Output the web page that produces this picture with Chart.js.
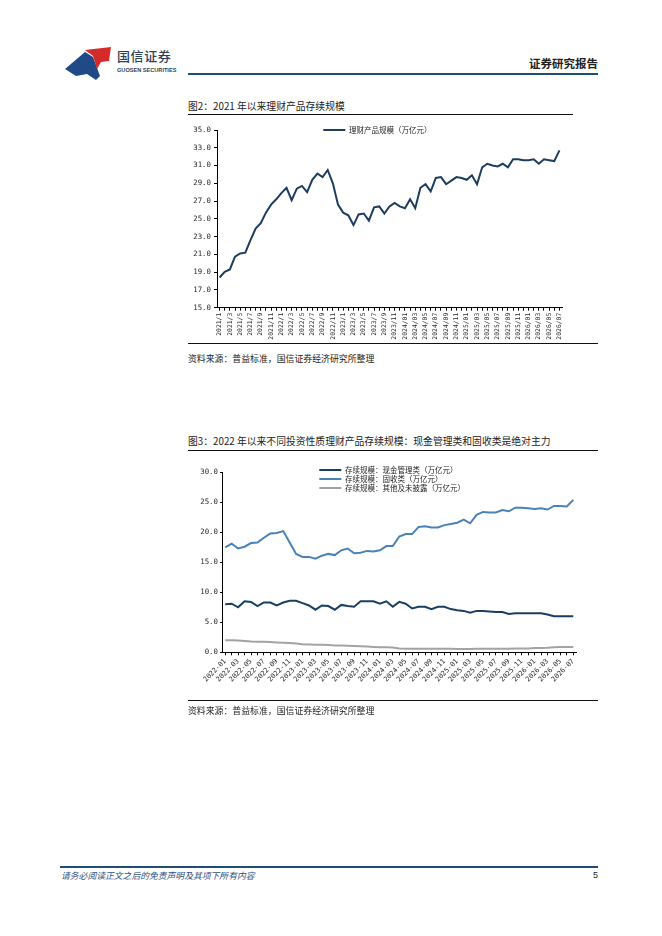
<!DOCTYPE html>
<html>
<head>
<meta charset="utf-8">
<script src="https://cdn.jsdelivr.net/npm/chart.js@4.4.1/dist/chart.umd.min.js"></script>
<style>
  html, body { margin: 0; padding: 0; background: #fff; }
  #page { position: relative; width: 662px; height: 936px; background: #fff; overflow: hidden;
          font-family: "Noto Sans CJK SC", "Noto Sans", sans-serif; color: #222; }
  .abs { position: absolute; white-space: nowrap; }
  .hline { position: absolute; }
</style>
</head>
<body>
<div id="page">
  <!-- header -->
  <svg class="abs" style="left:64px;top:44px" width="50" height="38" viewBox="0 0 50 38">
    <path d="M1,25 L21,8 L29,13 L36,32 L32,36 L23,30 L12,32 Z" fill="#1f4a86"/>
    <path d="M21,6 L47,3 L45,17 L37,18 L33,25 L29,12 Z" fill="#d42a2a"/>
  </svg>
  <div class="abs" style="left:117px;top:47px;font-size:13px;font-weight:500;letter-spacing:0.6px;color:#2d3f57;line-height:18px">国信证券</div>
  <div class="abs" style="left:117px;top:67px;font-size:5.6px;font-weight:700;color:#2d3f57;line-height:7px;font-family:'Liberation Sans',sans-serif">GUOSEN SECURITIES</div>
  <div class="abs" style="right:64px;top:55px;font-size:11.5px;font-weight:700;color:#222;line-height:16px">证券研究报告</div>
  <div class="hline" style="left:188px;top:73px;width:410px;height:2px;background:#1f4d74"></div>

  <!-- figure 2 -->
  <div class="abs" style="left:188px;top:99px;font-size:9.8px;line-height:14px;color:#222">图2：2021 年以来理财产品存续规模</div>
  <div class="hline" style="left:188px;top:114px;width:385px;height:1px;background:#111"></div>
  <div class="abs" style="left:188px;top:120px;width:412px;height:222px"><canvas id="c1" width="412" height="222"></canvas></div>
  <div class="hline" style="left:188px;top:343px;width:410px;height:1px;background:#111"></div>
  <div class="abs" style="left:188px;top:352px;font-size:8.9px;line-height:13px;color:#222">资料来源：普益标准，国信证券经济研究所整理</div>

  <!-- figure 3 -->
  <div class="abs" style="left:188px;top:434px;font-size:9.8px;line-height:14px;color:#222">图3：2022 年以来不同投资性质理财产品存续规模：现金管理类和固收类是绝对主力</div>
  <div class="hline" style="left:188px;top:450px;width:410px;height:1px;background:#111"></div>
  <div class="abs" style="left:188px;top:458px;width:412px;height:245px"><canvas id="c2" width="412" height="245"></canvas></div>
  <div class="hline" style="left:188px;top:700px;width:410px;height:1px;background:#111"></div>
  <div class="abs" style="left:188px;top:704px;font-size:8.9px;line-height:13px;color:#222">资料来源：普益标准，国信证券经济研究所整理</div>

  <!-- footer -->
  <div class="hline" style="left:60px;top:866px;width:538px;height:1.5px;background:#1f4d74"></div>
  <div class="abs" style="left:61px;top:869px;font-size:8.8px;line-height:13px;font-style:italic;color:#2d4f82">请务必阅读正文之后的免责声明及其项下所有内容</div>
  <div class="abs" style="right:64px;top:869px;font-size:9px;line-height:13px;color:#222;font-family:'Liberation Sans',sans-serif">5</div>
</div>

<script>
// ---------- Chart 1 data ----------
const months1 = [
  '2021/1','2021/2','2021/3','2021/4','2021/5','2021/6','2021/7','2021/8','2021/9','2021/10','2021/11','2021/12',
  '2022/1','2022/2','2022/3','2022/4','2022/5','2022/6','2022/7','2022/8','2022/9','2022/10','2022/11','2022/12',
  '2023/1','2023/2','2023/3','2023/4','2023/5','2023/6','2023/7','2023/8','2023/9','2023/10','2023/11','2023/12',
  '2024/01','2024/02','2024/03','2024/04','2024/05','2024/06','2024/07','2024/08','2024/09','2024/10','2024/11','2024/12',
  '2025/01','2025/02','2025/03','2025/04','2025/05','2025/06','2025/07','2025/08','2025/09','2025/10','2025/11','2025/12',
  '2026/01','2026/02','2026/03','2026/04','2026/05','2026/06','2026/07'
];
const wealthScale = [
  18.4, 19.05, 19.3, 20.75, 21.1, 21.2, 22.6, 23.9, 24.5, 25.7, 26.6, 27.2,
  27.9, 28.5, 27.1, 28.4, 28.7, 28.0, 29.4, 30.1, 29.7, 30.5, 29.0, 26.6,
  25.7, 25.4, 24.3, 25.5, 25.6, 24.8, 26.3, 26.4, 25.6, 26.4, 26.8, 26.4,
  26.2, 27.2, 26.2, 28.5, 28.9, 28.1, 29.6, 29.7, 28.9, 29.3, 29.7, 29.6,
  29.4, 29.9, 28.9, 30.8, 31.2, 31.0, 30.9, 31.2, 30.8, 31.7, 31.7, 31.6,
  31.6, 31.7, 31.2, 31.7, 31.6, 31.5, 32.7
];
const label1 = '理财产品规模（万亿元）';

// ---------- Chart 2 data ----------
const months2 = [
  '2022-01','2022-02','2022-03','2022-04','2022-05','2022-06','2022-07','2022-08','2022-09','2022-10','2022-11','2022-12',
  '2023-01','2023-02','2023-03','2023-04','2023-05','2023-06','2023-07','2023-08','2023-09','2023-10','2023-11','2023-12',
  '2024-01','2024-02','2024-03','2024-04','2024-05','2024-06','2024-07','2024-08','2024-09','2024-10','2024-11','2024-12',
  '2025-01','2025-02','2025-03','2025-04','2025-05','2025-06','2025-07','2025-08','2025-09','2025-10','2025-11','2025-12',
  '2026-01','2026-02','2026-03','2026-04','2026-05','2026-06','2026-07'
];
const cashMgmt = [
  8.0, 8.1, 7.5, 8.5, 8.4, 7.7, 8.3, 8.3, 7.8, 8.3, 8.6, 8.6,
  8.2, 7.8, 7.1, 7.8, 7.7, 7.1, 7.9, 7.7, 7.6, 8.5, 8.5, 8.5,
  8.1, 8.5, 7.6, 8.4, 8.1, 7.3, 7.6, 7.6, 7.2, 7.6, 7.6, 7.2,
  7.0, 6.9, 6.6, 6.9, 6.9, 6.8, 6.7, 6.7, 6.4, 6.5, 6.5, 6.5,
  6.5, 6.5, 6.3, 6.0, 6.0, 6.0, 6.0
];
const fixedIncome = [
  17.5, 18.1, 17.3, 17.6, 18.2, 18.3, 19.1, 19.8, 19.9, 20.2, 18.3, 16.4,
  15.9, 15.9, 15.6, 16.1, 16.4, 16.2, 17.0, 17.3, 16.5, 16.6, 16.9, 16.8,
  17.0, 17.7, 17.7, 19.3, 19.7, 19.7, 20.9, 21.0, 20.8, 20.8, 21.2, 21.4,
  21.6, 22.1, 21.5, 22.9, 23.4, 23.3, 23.3, 23.7, 23.5, 24.1, 24.1, 24.0,
  23.9, 24.0, 23.8, 24.4, 24.4, 24.3, 25.4
];
const otherUndisclosed = [
  2.0, 2.0, 1.95, 1.9, 1.8, 1.75, 1.75, 1.7, 1.65, 1.6, 1.55, 1.45,
  1.35, 1.3, 1.25, 1.25, 1.2, 1.15, 1.15, 1.1, 1.05, 1.0, 0.95, 0.9,
  0.85, 0.85, 0.8, 0.65, 0.6, 0.6, 0.6, 0.6, 0.6, 0.6, 0.6, 0.6,
  0.55, 0.55, 0.55, 0.6, 0.6, 0.6, 0.6, 0.6, 0.6, 0.65, 0.65, 0.65,
  0.7, 0.7, 0.75, 0.85, 0.9, 0.9, 0.9
];
const labels2 = ['存续规模：现金管理类（万亿元）', '存续规模：固收类（万亿元）', '存续规模：其他及未披露（万亿元）'];

// ---------- shared helpers ----------
const tickFont = { family: '"DejaVu Sans Mono", monospace', size: 7.4 };
const xTickFont1 = { family: '"DejaVu Sans Mono", monospace', size: 6.4 };
const xTickFont2 = { family: '"DejaVu Sans Mono", monospace', size: 6.9 };
const legendFont = { family: '"Noto Sans CJK SC", sans-serif', size: 7.5 };
const inkColor = '#2a2a2a';

// places the legend (drawn inside the chart area) at a given spot
const legendPlacer = {
  id: 'legendPlacer',
  afterLayout(chart, args, opts) {
    const lg = chart.legend;
    if (!lg) return;
    const p = lg.options.labels.padding;
    lg.left = opts.x - p;
    lg.top = opts.y - p;
    lg.width = 320; lg.height = 80;
    lg.right = lg.left + lg.width;
    lg.bottom = lg.top + lg.height;
  }
};

function lineLegendLabels(chart) {
  return Chart.defaults.plugins.legend.labels.generateLabels(chart)
    .map(l => Object.assign(l, { lineWidth: 0, fillStyle: l.strokeStyle }));
}

function everyOther(value, index) {
  return index % 2 === 0 ? this.getLabelForValue(value) : '';
}

// ---------- Chart 1 ----------
new Chart(document.getElementById('c1'), {
  type: 'line',
  data: {
    labels: months1,
    datasets: [{
      label: label1,
      data: wealthScale,
      borderColor: '#1d3d5e',
      backgroundColor: '#1d3d5e',
      borderWidth: 2,
      pointRadius: 0,
      tension: 0
    }]
  },
  plugins: [legendPlacer],
  options: {
    responsive: false,
    animation: false,
    layout: { padding: { left: 0, right: 38, top: 10, bottom: 0 } },
    plugins: {
      legendPlacer: { x: 135.3, y: 6.2 },
      legend: {
        position: 'chartArea',
        align: 'start',
        labels: { boxWidth: 22, boxHeight: 2, padding: 1, font: legendFont, color: '#222', generateLabels: lineLegendLabels }
      },
      tooltip: { enabled: false }
    },
    scales: {
      x: {
        offset: true,
        grid: { display: true, drawOnChartArea: false, tickLength: 3, color: '#000', offset: false },
        border: { display: true, color: '#000', width: 1 },
        ticks: { autoSkip: false, maxRotation: 90, minRotation: 90, padding: 2, font: xTickFont1, color: inkColor, callback: everyOther },
        afterFit(scale) { scale.height = 34.3; }
      },
      y: {
        min: 15, max: 35,
        grid: { display: true, drawOnChartArea: false, tickLength: 3, color: '#000' },
        border: { display: true, color: '#000', width: 1 },
        ticks: { stepSize: 2, padding: 3, font: tickFont, color: inkColor, callback: v => Number(v).toFixed(1) },
        afterFit(scale) { scale.width = 29; }
      }
    }
  }
});

// ---------- Chart 2 ----------
new Chart(document.getElementById('c2'), {
  type: 'line',
  data: {
    labels: months2,
    datasets: [
      { label: labels2[0], data: cashMgmt, borderColor: '#1b3f61', backgroundColor: '#1b3f61', borderWidth: 2, pointRadius: 0, tension: 0 },
      { label: labels2[1], data: fixedIncome, borderColor: '#4a82b6', backgroundColor: '#4a82b6', borderWidth: 2, pointRadius: 0, tension: 0 },
      { label: labels2[2], data: otherUndisclosed, borderColor: '#a3a3a3', backgroundColor: '#a3a3a3', borderWidth: 2, pointRadius: 0, tension: 0 }
    ]
  },
  plugins: [legendPlacer],
  options: {
    responsive: false,
    animation: false,
    layout: { padding: { left: 0, right: 23.5, top: 14.3, bottom: 0 } },
    plugins: {
      legendPlacer: { x: 131.3, y: 8.2 },
      legend: {
        position: 'chartArea',
        align: 'start',
        labels: { boxWidth: 22, boxHeight: 2, padding: 1.5, font: legendFont, color: '#222', generateLabels: lineLegendLabels }
      },
      tooltip: { enabled: false }
    },
    scales: {
      x: {
        offset: true,
        grid: { display: true, drawOnChartArea: false, tickLength: 3, color: '#000', offset: false },
        border: { display: true, color: '#000', width: 1 },
        ticks: { autoSkip: false, maxRotation: 45, minRotation: 45, padding: 2, font: xTickFont2, color: inkColor, callback: everyOther },
        afterFit(scale) { scale.height = 50.7; }
      },
      y: {
        min: 0, max: 30,
        grid: { display: true, drawOnChartArea: false, tickLength: 2, color: '#000' },
        border: { display: true, color: '#000', width: 1 },
        ticks: { stepSize: 5, padding: 2, font: tickFont, color: inkColor, callback: v => Number(v).toFixed(1) },
        afterFit(scale) { scale.width = 34; }
      }
    }
  }
});
</script>
</body>
</html>
